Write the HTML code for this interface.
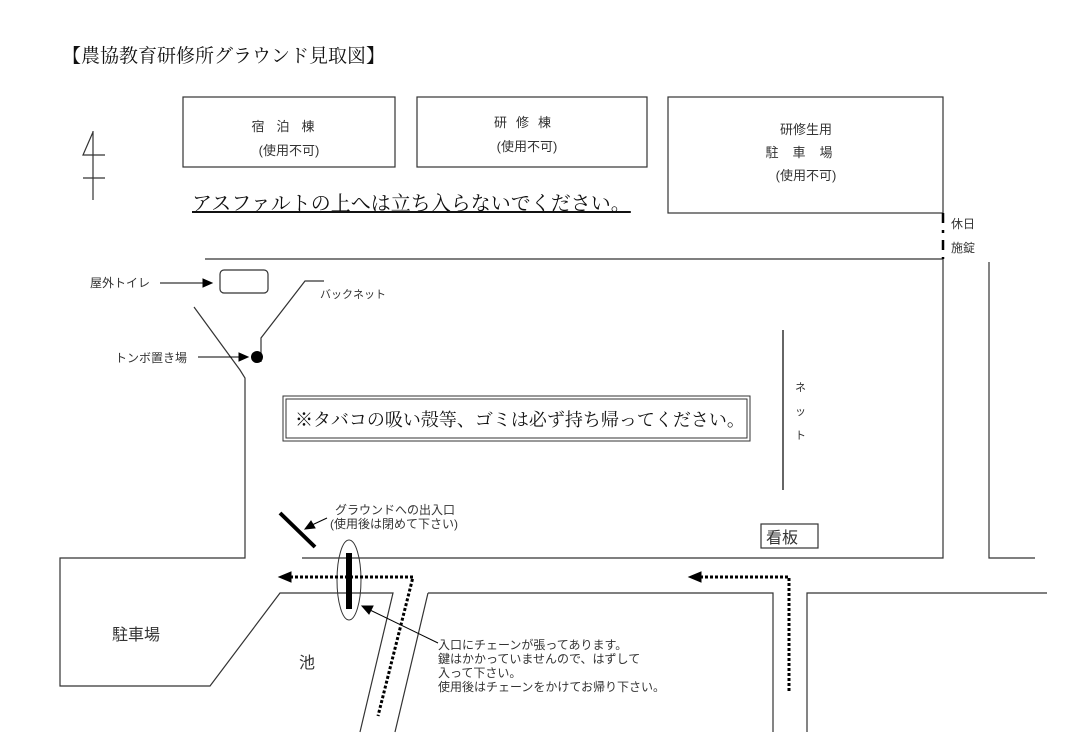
<!DOCTYPE html>
<html><head><meta charset="utf-8"><style>
body{margin:0;background:#fff;}
svg{display:block}
.s{font-family:"Liberation Serif","Noto Serif CJK SC","Noto Sans CJK JP",serif;}
.g{font-family:"Liberation Sans","Noto Sans CJK JP",sans-serif;}
</style></head><body>
<svg width="1080" height="742" viewBox="0 0 1080 742" xmlns="http://www.w3.org/2000/svg">
<g fill="none" stroke="#333" stroke-width="1.2">
<text class="s" x="62" y="62" font-size="19" fill="#111" stroke="none">【農協教育研修所グラウンド見取図】</text>
<rect x="183" y="97" width="212" height="70"/>
<rect x="417" y="97" width="230" height="70"/>
<rect x="668" y="97" width="275" height="116"/>
<!-- north -->
<path d="M93 131 V200 M93 132 L83 155 H105 M83 178 H105"/>
<!-- field -->
<path d="M205 259 H943 V558 H302"/>
<path d="M943 213 V259" stroke="#000" stroke-width="2.5" stroke-dasharray="10 7 3 7"/>
<path d="M989 262 V558 H1035"/>
<path d="M194 307 L240 370 L245 378 V558 H60 V686 H210 L280 593 H393 L360 732"/>
<path d="M428 593 L395 732 M428 593 H773 V732 M807 732 V593 H1047"/>
<rect x="220" y="270" width="48" height="23" rx="4"/>
<path d="M324 281 H305 L261 338 V362"/>
<path d="M783 330 V490" stroke="#000"/>
<rect x="283" y="396" width="467" height="45" stroke-width="1"/>
<rect x="286" y="399" width="461" height="39" stroke-width="1"/>
<rect x="761" y="524" width="57" height="24"/>
<ellipse cx="349" cy="580" rx="12" ry="40" stroke-width="1"/>
</g>
<circle cx="257" cy="357" r="6" fill="#000"/>
<path d="M280 513 L315 547" stroke="#000" stroke-width="4"/>
<path d="M349 553 V609" stroke="#000" stroke-width="6"/>
<g stroke="#000" stroke-width="3" stroke-dasharray="3 2" fill="none">
<path d="M290 577 H413 L378 716"/>
<path d="M700 577 H789 V692"/>
</g>
<g fill="#000" stroke="#000" stroke-width="1">
<path d="M279 577 L291 572 L291 582Z"/>
<path d="M689 577 L701 572 L701 582Z"/>
<line x1="160" y1="283" x2="204" y2="283"/><path d="M212 283 L203 279 L203 287Z"/>
<line x1="198" y1="357" x2="240" y2="357"/><path d="M248 357 L239 353 L239 361Z"/>
<line x1="327" y1="518" x2="312" y2="525"/><path d="M305 529 L311 521 L315 528Z"/>
<line x1="438" y1="643" x2="370" y2="610"/><path d="M362 606 L373 606 L369 614Z"/>
</g>
<g class="g" fill="#333" font-size="13" text-anchor="middle">
<text x="289" y="131" letter-spacing="12">宿泊棟</text>
<text x="289" y="155">(使用不可)</text>
<text x="527" y="127" letter-spacing="9">研修棟</text>
<text x="527" y="151">(使用不可)</text>
<text x="806" y="134">研修生用</text>
<text x="806" y="157" letter-spacing="14">駐車場</text>
<text x="806" y="180">(使用不可)</text>
</g>
<text class="s" x="192" y="210" font-size="20" fill="#111" text-decoration="underline">アスファルトの上へは立ち入らないでください。</text>
<g class="g" fill="#333" font-size="12">
<text x="951" y="228">休日</text>
<text x="951" y="252">施錠</text>
<text x="90" y="287">屋外トイレ</text>
<text x="320" y="298" font-size="11">バックネット</text>
<text x="115" y="362">トンボ置き場</text>
<text x="795" y="391" font-size="11">ネ</text>
<text x="795" y="415" font-size="11">ッ</text>
<text x="795" y="439" font-size="11">ト</text>
<text x="335" y="514">グラウンドへの出入口</text>
<text x="330" y="528">(使用後は閉めて下さい)</text>
<text x="438" y="649">入口にチェーンが張ってあります。</text>
<text x="438" y="663">鍵はかかっていませんので、はずして</text>
<text x="438" y="677">入って下さい。</text>
<text x="438" y="691">使用後はチェーンをかけてお帰り下さい。</text>
<text x="112" y="640" font-size="16">駐車場</text>
<text x="299" y="668" font-size="16">池</text>
<text x="766" y="543" font-size="16">看板</text>
</g>
<text class="s" x="295" y="426" font-size="18" fill="#111">※タバコの吸い殻等、ゴミは必ず持ち帰ってください。</text>
</svg>
</body></html>
